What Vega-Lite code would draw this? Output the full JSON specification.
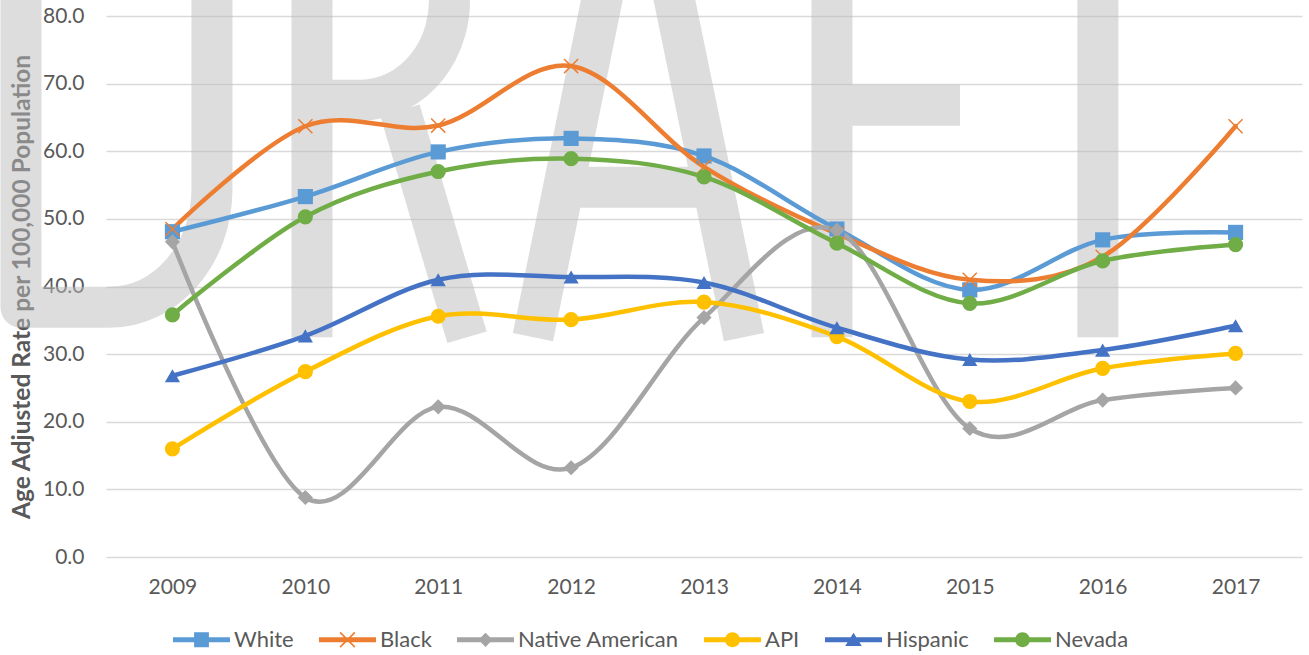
{
  "$schema": "https://vega.github.io/schema/vega-lite/v6.json",
  "width": 1196,
  "height": 541,
  "autosize": "none",
  "padding": {"left": 106, "top": 16, "right": 7, "bottom": 98},
  "background": "white",
  "config": {"view": {"stroke": null}, "font": "Lato"},
  "datasets": {
    "rates": [
      {"series": "White", "year": 2009, "rate": 48.1},
      {"series": "White", "year": 2010, "rate": 53.3},
      {"series": "White", "year": 2011, "rate": 59.9},
      {"series": "White", "year": 2012, "rate": 61.9},
      {"series": "White", "year": 2013, "rate": 59.3},
      {"series": "White", "year": 2014, "rate": 48.5},
      {"series": "White", "year": 2015, "rate": 39.5},
      {"series": "White", "year": 2016, "rate": 46.9},
      {"series": "White", "year": 2017, "rate": 48.0},
      {"series": "Black", "year": 2009, "rate": 48.5},
      {"series": "Black", "year": 2010, "rate": 63.7},
      {"series": "Black", "year": 2011, "rate": 63.8},
      {"series": "Black", "year": 2012, "rate": 72.6},
      {"series": "Black", "year": 2013, "rate": 57.7},
      {"series": "Black", "year": 2014, "rate": 47.8},
      {"series": "Black", "year": 2015, "rate": 41.0},
      {"series": "Black", "year": 2016, "rate": 44.4},
      {"series": "Black", "year": 2017, "rate": 63.7},
      {"series": "Native American", "year": 2009, "rate": 46.6},
      {"series": "Native American", "year": 2010, "rate": 8.8},
      {"series": "Native American", "year": 2011, "rate": 22.2},
      {"series": "Native American", "year": 2012, "rate": 13.2},
      {"series": "Native American", "year": 2013, "rate": 35.4},
      {"series": "Native American", "year": 2014, "rate": 48.3},
      {"series": "Native American", "year": 2015, "rate": 19.0},
      {"series": "Native American", "year": 2016, "rate": 23.2},
      {"series": "Native American", "year": 2017, "rate": 25.0},
      {"series": "API", "year": 2009, "rate": 16.0},
      {"series": "API", "year": 2010, "rate": 27.4},
      {"series": "API", "year": 2011, "rate": 35.6},
      {"series": "API", "year": 2012, "rate": 35.1},
      {"series": "API", "year": 2013, "rate": 37.7},
      {"series": "API", "year": 2014, "rate": 32.6},
      {"series": "API", "year": 2015, "rate": 23.0},
      {"series": "API", "year": 2016, "rate": 27.9},
      {"series": "API", "year": 2017, "rate": 30.1},
      {"series": "Hispanic", "year": 2009, "rate": 26.8},
      {"series": "Hispanic", "year": 2010, "rate": 32.7},
      {"series": "Hispanic", "year": 2011, "rate": 41.0},
      {"series": "Hispanic", "year": 2012, "rate": 41.4},
      {"series": "Hispanic", "year": 2013, "rate": 40.6},
      {"series": "Hispanic", "year": 2014, "rate": 33.9},
      {"series": "Hispanic", "year": 2015, "rate": 29.2},
      {"series": "Hispanic", "year": 2016, "rate": 30.6},
      {"series": "Hispanic", "year": 2017, "rate": 34.2},
      {"series": "Nevada", "year": 2009, "rate": 35.8},
      {"series": "Nevada", "year": 2010, "rate": 50.3},
      {"series": "Nevada", "year": 2011, "rate": 57.0},
      {"series": "Nevada", "year": 2012, "rate": 58.9},
      {"series": "Nevada", "year": 2013, "rate": 56.2},
      {"series": "Nevada", "year": 2014, "rate": 46.4},
      {"series": "Nevada", "year": 2015, "rate": 37.5},
      {"series": "Nevada", "year": 2016, "rate": 43.8},
      {"series": "Nevada", "year": 2017, "rate": 46.2}
    ],
    "watermark": [
      {"letter": "D", "year": 2008.575, "rate": 32.5},
      {"letter": "R", "year": 2010.637, "rate": 32.5},
      {"letter": "A", "year": 2012.503, "rate": 32.5},
      {"letter": "F", "year": 2013.963, "rate": 32.5},
      {"letter": "T", "year": 2015.964, "rate": 32.5}
    ]
  },
  "encoding": {
    "x": {
      "field": "year", "type": "quantitative",
      "scale": {"domain": [2008.5, 2017.5], "nice": false, "zero": false},
      "axis": {
        "values": [2009, 2010, 2011, 2012, 2013, 2014, 2015, 2016, 2017],
        "format": "d", "title": null, "grid": false, "ticks": false, "domain": false,
        "labelPadding": 19, "labelFontSize": 21, "labelColor": "#595959", "labelFont": "Lato"
      }
    },
    "y": {
      "field": "rate", "type": "quantitative",
      "scale": {"domain": [0, 80], "nice": false},
      "axis": {
        "values": [0, 10, 20, 30, 40, 50, 60, 70, 80],
        "format": ".1f",
        "title": "Age Adjusted Rate per 100,000 Population",
        "titleFont": "Lato", "titleFontSize": 24.5, "titleFontWeight": "bold", "titleColor": "#595959",
        "titlePadding": 8,
        "grid": true, "gridColor": "#d9d9d9", "gridWidth": 1.3,
        "ticks": false, "domain": false,
        "labelPadding": 22, "labelFontSize": 21, "labelColor": "#595959", "labelFont": "Lato"
      }
    }
  },
  "layer": [
    {
      "data": {"name": "watermark"},
      "mark": {"type": "point", "filled": false, "size": 4, "stroke": "#bbbbbb", "strokeOpacity": 0.5, "strokeWidth": 41, "strokeCap": "butt", "strokeJoin": "round", "opacity": 1},
      "encoding": {
        "shape": {
          "field": "letter", "type": "nominal",
          "scale": {
            "domain": ["D", "R", "A", "F", "T"],
            "range": [
              "M-95,-520V-30H-7A103,118 0 0,0 96,-148V-520",
              "M-78,-520V0M-78,-437H-30A89,100 0 0,1 59,-348A89,100 0 0,1 -30,-237H-78M10,-227L77,0",
              "M-105,0L0,-514L106,0M-74,-150H74",
              "M0,0V-520M0,-438H150M0,-232H128",
              "M0,0V-438M-110,-438H110"
            ]
          },
          "legend": null
        }
      }
    },
    {
      "data": {"name": "rates"},
      "mark": {"type": "line", "interpolate": "cardinal", "strokeWidth": 4.5, "strokeCap": "round", "strokeJoin": "round"},
      "encoding": {
        "color": {
          "field": "series", "type": "nominal",
          "scale": {"domain": ["White", "Black", "Native American", "API", "Hispanic", "Nevada"], "range": ["#5B9BD5", "#ED7D31", "#A5A5A5", "#FFC000", "#4472C4", "#70AD47"]},
          "legend": null
        }
      }
    },
    {
      "data": {"name": "rates"},
      "mark": {"type": "point", "filled": true, "opacity": 1, "strokeWidth": 0, "size": 230},
      "encoding": {
        "color": {
          "field": "series", "type": "nominal",
          "scale": {"domain": ["White", "Black", "Native American", "API", "Hispanic", "Nevada"], "range": ["#5B9BD5", "#ED7D31", "#A5A5A5", "#FFC000", "#4472C4", "#70AD47"]},
          "legend": null
        },
        "shape": {
          "field": "series", "type": "nominal",
          "scale": {"domain": ["White", "Black", "Native American", "API", "Hispanic", "Nevada"], "range": ["square", "M-1,-0.86L-0.86,-1L1,0.86L0.86,1Z M0.86,-1L1,-0.86L-0.86,1L-1,0.86Z", "diamond", "circle", "triangle-up", "circle"]},
          "legend": null
        }
      }
    },
    {
      "data": {"name": "rates"},
      "transform": [{"filter": "datum.year < 0"}],
      "mark": {"type": "point", "filled": true, "opacity": 1, "strokeWidth": 0},
      "encoding": {
        "color": {
          "field": "series", "type": "nominal",
          "scale": {"domain": ["White", "Black", "Native American", "API", "Hispanic", "Nevada"], "range": ["#5B9BD5", "#ED7D31", "#A5A5A5", "#FFC000", "#4472C4", "#70AD47"]},
          "legend": {"orient": "none", "legendX": 67, "legendY": 595, "direction": "horizontal", "title": null, "symbolSize": 3249, "symbolStrokeWidth": 0, "labelFontSize": 22, "labelLimit": 400, "labelColor": "#595959", "labelFont": "Lato", "columnPadding": 25, "labelOffset": 4}
        },
        "shape": {
          "field": "series", "type": "nominal",
          "scale": {"domain": ["White", "Black", "Native American", "API", "Hispanic", "Nevada"], "range": [
            "M-1,-0.09H1V0.09H-1Z M-0.26,-0.26H0.26V0.26H-0.26Z",
            "M-1,-0.09H1V0.09H-1Z M-0.28,-0.24L-0.24,-0.28L0.28,0.24L0.24,0.28Z M0.24,-0.28L0.28,-0.24L-0.24,0.28L-0.28,0.24Z",
            "M-1,-0.09H1V0.09H-1Z M0,-0.25L0.25,0L0,0.25L-0.25,0Z",
            "M-1,-0.09H1V0.09H-1Z M-0.26,0A0.26,0.26 0 1,1 0.26,0A0.26,0.26 0 1,1 -0.26,0Z",
            "M-1,-0.09H1V0.09H-1Z M0,-0.25L0.29,0.22L-0.29,0.22Z",
            "M-1,-0.09H1V0.09H-1Z M-0.26,0A0.26,0.26 0 1,1 0.26,0A0.26,0.26 0 1,1 -0.26,0Z"
          ]},
          "legend": {"orient": "none", "legendX": 67, "legendY": 595, "direction": "horizontal", "title": null, "symbolSize": 3249, "symbolStrokeWidth": 0, "labelFontSize": 22, "labelLimit": 400, "labelColor": "#595959", "labelFont": "Lato", "columnPadding": 25, "labelOffset": 4}
        }
      }
    }
  ],
  "resolve": {"scale": {"color": "independent", "shape": "independent"}}
}
